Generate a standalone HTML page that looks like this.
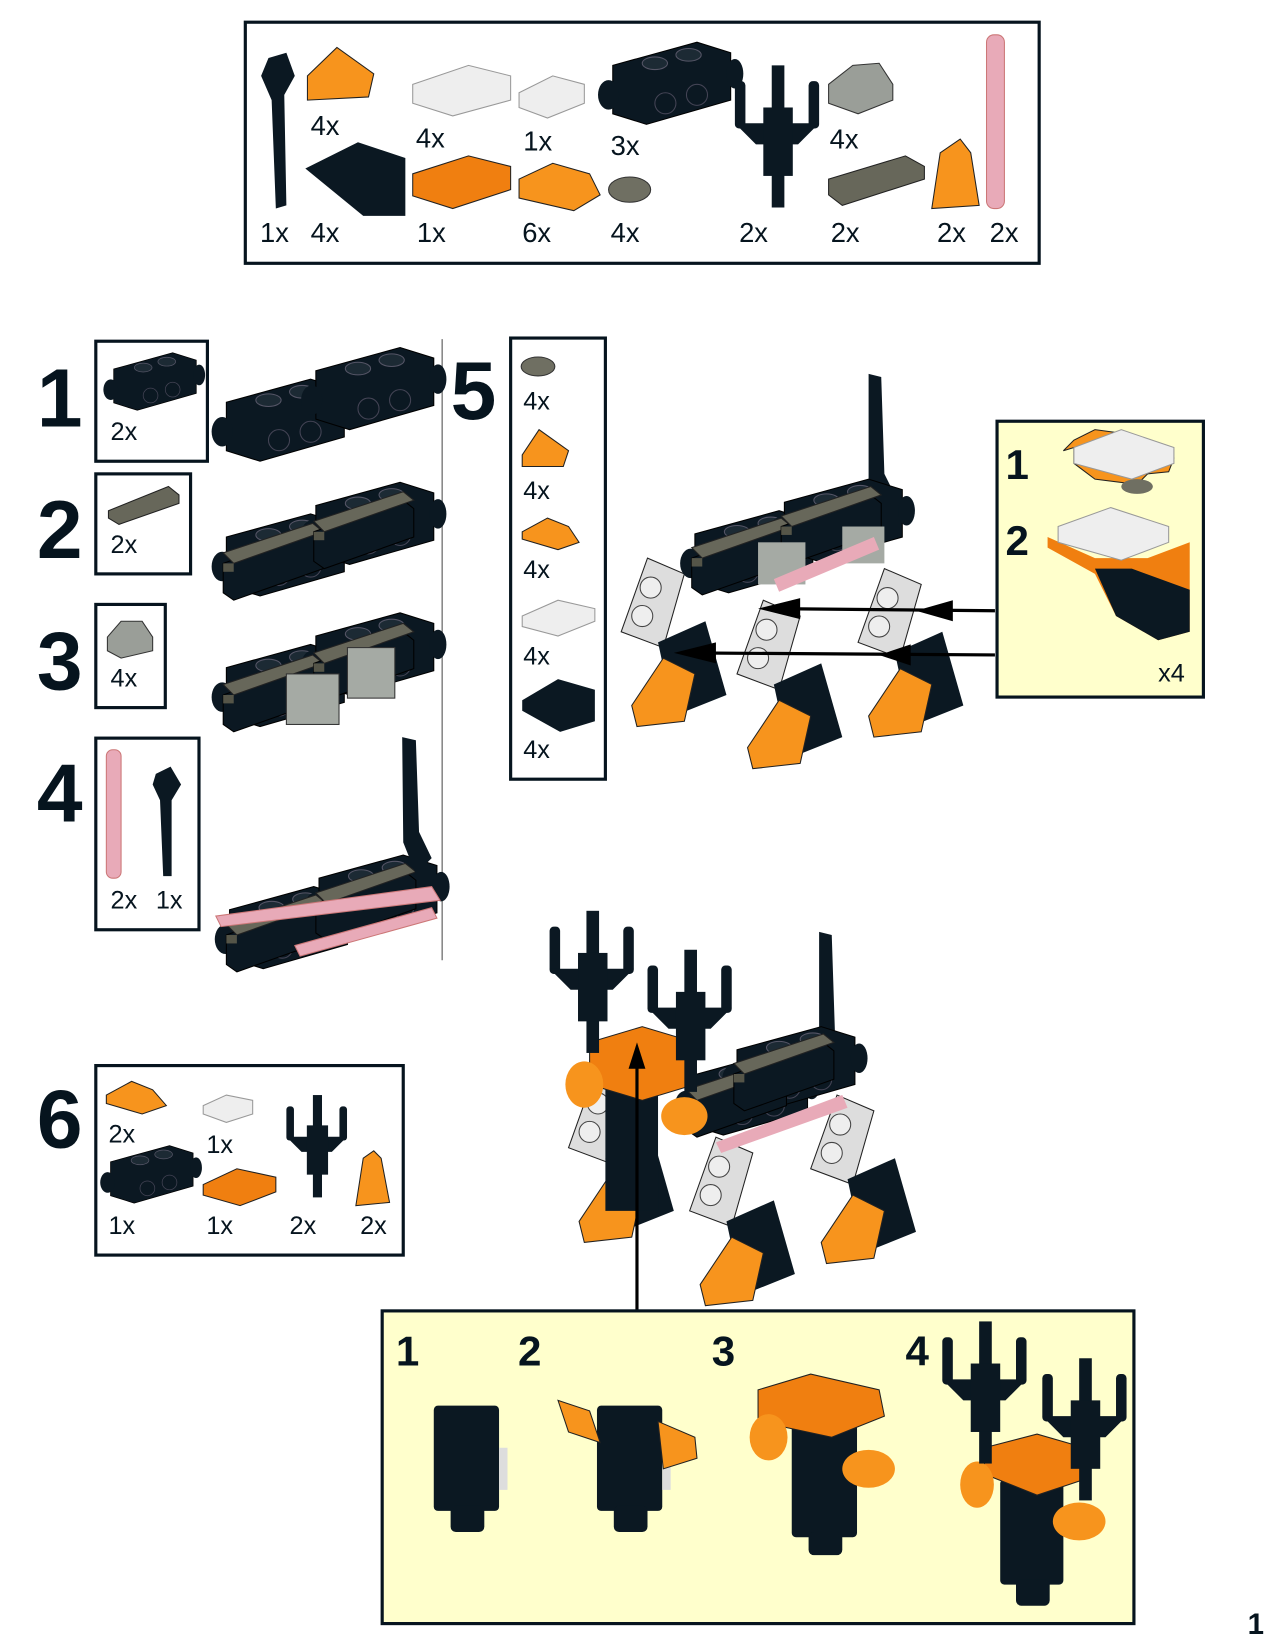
<!DOCTYPE html>
<html><head><meta charset="utf-8"><style>
html,body{margin:0;padding:0;background:#fff;}
svg{display:block;}
text{font-family:"Liberation Sans",Arial,sans-serif;fill:#06141e;}
.q{font-size:26px;}
.s{font-size:24px;}
.n{font-size:78px;font-weight:bold;}
.m{font-size:40px;font-weight:bold;}
</style></head><body>
<svg width="1275" height="1650" viewBox="0 0 1211 1567" xmlns="http://www.w3.org/2000/svg">
<defs>
<g id="brick"><polygon points="0,22 80,0 112,10 112,55 32,78 0,68" fill="#0b1822" stroke="#000"/><ellipse cx="40" cy="20" rx="12" ry="6" fill="#1c2a34" stroke="#556"/><ellipse cx="72" cy="12" rx="12" ry="6" fill="#1c2a34" stroke="#556"/><circle cx="50" cy="58" r="10" fill="none" stroke="#445"/><circle cx="80" cy="50" r="10" fill="none" stroke="#445"/><ellipse cx="-4" cy="50" rx="10" ry="14" fill="#0b1822"/><ellipse cx="116" cy="30" rx="8" ry="14" fill="#0b1822"/></g>
<g id="grille"><polygon points="0,30 85,0 95,8 95,35 10,65 0,58" fill="#0b1822" stroke="#000"/><polygon points="0,20 85,-8 95,0 10,30" fill="#67675a" stroke="#222"/><polygon points="0,30 10,30 10,38 0,38" fill="#555548"/></g>
<g id="antler"><rect x="35" y="0" width="12" height="135" fill="#0b1822"/><rect x="0" y="15" width="10" height="45" rx="4" fill="#0b1822"/><rect x="70" y="15" width="10" height="45" rx="4" fill="#0b1822"/><polygon points="0,55 80,55 60,75 20,75" fill="#0b1822"/><rect x="27" y="40" width="28" height="65" fill="#0b1822"/></g>
<g id="leg"><polygon points="0,70 25,0 60,15 40,85" fill="#ddd" stroke="#222"/><circle cx="28" cy="28" r="10" fill="#eee" stroke="#444"/><circle cx="20" cy="55" r="10" fill="#eee" stroke="#444"/><polygon points="35,80 80,60 100,130 50,150" fill="#0b1822"/><polygon points="10,140 40,95 70,110 60,155 15,160" fill="#f7941d" stroke="#222"/></g>
</defs>

<rect x="233" y="21" width="754" height="229" fill="#fff" stroke="#06141e" stroke-width="3"/>
<path d="M255,55 L272,50 L280,72 L270,90 L272,195 L262,198 L258,95 L248,72 Z" fill="#0b1822"/>
<polygon points="292,72 320,45 355,70 350,92 292,95" fill="#f7941d" stroke="#222"/>
<polygon points="290,160 340,135 385,150 385,205 345,205" fill="#0b1822"/>
<polygon points="392,80 445,62 485,72 485,95 430,110 392,98" fill="#eee" stroke="#999"/>
<polygon points="392,165 445,148 485,158 485,180 430,198 392,186" fill="#f07f10" stroke="#222"/>
<polygon points="493,88 525,72 555,80 555,98 520,112 493,102" fill="#eee" stroke="#999"/>
<polygon points="493,170 525,155 560,165 570,185 545,200 493,188" fill="#f7941d" stroke="#222"/>
<use href="#brick" x="582" y="40"/>
<ellipse cx="598" cy="180" rx="20" ry="12" fill="#6f6f62" stroke="#333"/>
<use href="#antler" x="698" y="62"/>
<polygon points="787,80 810,62 835,60 848,80 848,95 815,108 787,98" fill="#9a9e98" stroke="#333"/>
<polygon points="787,170 860,148 878,158 878,170 800,195 787,185" fill="#67675a" stroke="#222"/>
<polygon points="893,145 912,132 922,145 930,195 885,198" fill="#f7941d" stroke="#222"/>
<rect x="937" y="33" width="17" height="165" rx="7" fill="#e8aab8" stroke="#c77"/>
<text class="q" x="295" y="128">4x</text><text class="q" x="395" y="140">4x</text><text class="q" x="497" y="143">1x</text><text class="q" x="580" y="147">3x</text><text class="q" x="788" y="141">4x</text>
<text class="q" x="247" y="230">1x</text><text class="q" x="295" y="230">4x</text><text class="q" x="396" y="230">1x</text><text class="q" x="496" y="230">6x</text><text class="q" x="580" y="230">4x</text><text class="q" x="702" y="230">2x</text><text class="q" x="789" y="230">2x</text><text class="q" x="890" y="230">2x</text><text class="q" x="940" y="230">2x</text>

<text class="n" x="35" y="405">1</text><text class="n" x="35" y="530">2</text><text class="n" x="35" y="655">3</text><text class="n" x="35" y="780">4</text><text class="n" x="428" y="398">5</text><text class="n" x="35" y="1090">6</text>
<line x1="420" y1="322" x2="420" y2="912" stroke="#888" stroke-width="1.5"/>

<rect x="91" y="324" width="106" height="114" fill="#fff" stroke="#06141e" stroke-width="3"/>
<g transform="translate(108,335) scale(0.7)"><use href="#brick"/></g>
<text class="s" x="105" y="418">2x</text>
<use href="#brick" x="215" y="360"/><use href="#brick" x="300" y="330"/>
<rect x="91" y="450" width="90" height="95" fill="#fff" stroke="#06141e" stroke-width="3"/>
<polygon points="103,485 160,462 170,470 170,478 113,498 103,492" fill="#67675a" stroke="#222"/>
<text class="s" x="105" y="525">2x</text>
<use href="#brick" x="215" y="488"/><use href="#brick" x="300" y="458"/>
<use href="#grille" x="212" y="505"/><use href="#grille" x="298" y="475"/>
<rect x="91" y="574" width="66" height="98" fill="#fff" stroke="#06141e" stroke-width="3"/>
<polygon points="102,605 115,590 135,590 145,605 145,618 115,625 102,618" fill="#9a9e98" stroke="#333"/>
<text class="s" x="105" y="652">4x</text>
<use href="#brick" x="215" y="612"/><use href="#brick" x="300" y="582"/>
<use href="#grille" x="212" y="630"/><use href="#grille" x="298" y="600"/>
<rect x="272" y="640" width="50" height="48" fill="#a5aaa4" stroke="#333"/><rect x="330" y="615" width="45" height="48" fill="#a5aaa4" stroke="#333"/>
<rect x="91" y="701" width="98" height="182" fill="#fff" stroke="#06141e" stroke-width="3"/>
<rect x="101" y="712" width="14" height="122" rx="6" fill="#e8aab8" stroke="#c77"/>
<path d="M148,735 L162,728 L172,745 L163,760 L163,832 L155,832 L152,760 L145,745Z" fill="#0b1822"/>
<text class="s" x="105" y="863">2x</text><text class="s" x="148" y="863">1x</text>
<use href="#brick" x="218" y="842"/><use href="#brick" x="303" y="812"/>
<use href="#grille" x="215" y="858"/><use href="#grille" x="300" y="828"/>
<path d="M382,700 L395,703 L398,790 L410,815 L395,830 L383,800Z" fill="#0b1822"/>
<polygon points="205,870 410,842 418,855 210,880" fill="#e8aab8" stroke="#c77"/>
<polygon points="280,898 410,862 415,872 285,908" fill="#e8aab8" stroke="#c77"/>

<rect x="485" y="321" width="90" height="419" fill="#fff" stroke="#06141e" stroke-width="3"/>
<ellipse cx="511" cy="348" rx="16" ry="9" fill="#6f6f62" stroke="#333"/>
<polygon points="496,432 512,408 540,428 535,443 496,443" fill="#f7941d" stroke="#222"/>
<polygon points="496,505 520,492 540,500 550,515 530,522 496,512" fill="#f7941d" stroke="#222"/>
<polygon points="496,585 530,570 565,578 565,590 530,604 496,595" fill="#eee" stroke="#999"/>
<polygon points="496,665 530,645 565,655 565,685 532,695 496,675" fill="#0b1822"/>
<text class="s" x="497" y="389">4x</text><text class="s" x="497" y="474">4x</text><text class="s" x="497" y="549">4x</text><text class="s" x="497" y="631">4x</text><text class="s" x="497" y="720">4x</text>

<path d="M825,355 L837,358 L840,450 L850,470 L840,490 L825,480Z" fill="#0b1822"/>
<use href="#leg" x="590" y="530"/><use href="#leg" x="700" y="570"/><use href="#leg" x="815" y="540"/>
<use href="#brick" x="660" y="485"/><use href="#brick" x="745" y="455"/>
<use href="#grille" x="657" y="500"/><use href="#grille" x="742" y="470"/>
<rect x="720" y="515" width="45" height="40" fill="#a5aaa4"/><rect x="800" y="500" width="40" height="35" fill="#a5aaa4"/>
<polygon points="735,550 830,510 835,522 740,562" fill="#e8aab8"/>
<line x1="945" y1="580" x2="735" y2="578" stroke="#000" stroke-width="3"/><polygon points="720,578 760,568 760,588" fill="#000"/><polygon points="870,580 905,570 905,590" fill="#000"/>
<line x1="945" y1="622" x2="650" y2="620" stroke="#000" stroke-width="3"/><polygon points="640,620 680,610 680,630" fill="#000"/><polygon points="835,622 865,612 865,632" fill="#000"/>
<rect x="947" y="400" width="196" height="262" fill="#ffffcc" stroke="#06141e" stroke-width="3"/>
<text class="m" x="955" y="455">1</text><text class="m" x="955" y="527">2</text><text class="s" x="1100" y="647">x4</text>
<polygon points="1010,428 1020,425 1020,440 1040,455 1080,460 1090,450 1110,448 1115,435 1070,412 1040,408 1020,418" fill="#f7941d" stroke="#222"/>
<polygon points="1020,425 1065,408 1115,425 1115,440 1075,455 1020,440" fill="#eee" stroke="#999"/>
<ellipse cx="1080" cy="462" rx="15" ry="7" fill="#6f6f62"/>
<polygon points="995,510 1040,530 1090,530 1130,515 1130,600 1100,608 1060,585 1040,545 995,520" fill="#f07f10"/>
<polygon points="1040,540 1075,540 1130,560 1130,600 1100,608 1060,585" fill="#0b1822"/>
<polygon points="1005,500 1055,482 1110,500 1110,515 1065,532 1005,515" fill="#eee" stroke="#999"/>

<rect x="91" y="1012" width="292" height="180" fill="#fff" stroke="#06141e" stroke-width="3"/>
<polygon points="101,1040 125,1027 145,1035 158,1050 135,1058 101,1048" fill="#f7941d" stroke="#222"/>
<polygon points="193,1050 215,1040 240,1045 240,1058 215,1066 193,1058" fill="#eee" stroke="#999"/>
<g transform="translate(105,1088) scale(0.7)"><use href="#brick"/></g>
<polygon points="193,1125 225,1110 262,1118 262,1132 228,1145 193,1135" fill="#f07f10" stroke="#222"/>
<g transform="translate(272,1040) scale(0.72)"><use href="#antler"/></g>
<polygon points="345,1100 355,1093 362,1100 370,1142 338,1145" fill="#f7941d" stroke="#222"/>
<text class="s" x="103" y="1085">2x</text><text class="s" x="196" y="1095">1x</text><text class="s" x="103" y="1172">1x</text><text class="s" x="196" y="1172">1x</text><text class="s" x="275" y="1172">2x</text><text class="s" x="342" y="1172">2x</text>

<path d="M778,885 L790,888 L793,980 L800,1000 L788,1015 L778,1000Z" fill="#0b1822"/>
<use href="#leg" x="540" y="1020"/><use href="#leg" x="655" y="1080"/><use href="#leg" x="770" y="1040"/>
<rect x="575" y="1020" width="50" height="130" fill="#0b1822"/>
<use href="#brick" x="655" y="1000"/><use href="#brick" x="700" y="975"/>
<use href="#grille" x="652" y="1015"/><use href="#grille" x="697" y="990"/>
<polygon points="680,1085 800,1040 805,1052 685,1095" fill="#e8aab8"/>
<polygon points="560,990 610,975 660,990 660,1030 610,1045 560,1030" fill="#f07f10" stroke="#222"/>
<ellipse cx="555" cy="1030" rx="18" ry="22" fill="#f7941d"/><ellipse cx="650" cy="1060" rx="22" ry="18" fill="#f7941d"/>
<use href="#antler" x="522" y="865"/><use href="#antler" x="615" y="902"/>
<line x1="605" y1="1000" x2="605" y2="1245" stroke="#000" stroke-width="3"/><polygon points="605,990 597,1015 613,1015" fill="#000"/>

<rect x="363" y="1245" width="714" height="297" fill="#ffffcc" stroke="#06141e" stroke-width="3"/>
<text class="m" x="376" y="1297">1</text><text class="m" x="492" y="1297">2</text><text class="m" x="676" y="1297">3</text><text class="m" x="860" y="1297">4</text>
<g fill="#0b1822">
<rect x="412" y="1335" width="62" height="100" rx="4"/><rect x="428" y="1430" width="32" height="25" rx="5"/>
<rect x="567" y="1335" width="62" height="100" rx="4"/><rect x="583" y="1430" width="32" height="25" rx="5"/>
<rect x="752" y="1350" width="62" height="110" rx="4"/><rect x="768" y="1455" width="32" height="22" rx="5"/>
<rect x="950" y="1405" width="60" height="100" rx="4"/><rect x="965" y="1500" width="32" height="25" rx="5"/>
</g>
<rect x="474" y="1375" width="8" height="40" fill="#ddd"/><rect x="629" y="1375" width="8" height="40" fill="#ddd"/>
<polygon points="530,1330 560,1340 570,1370 540,1360" fill="#f7941d" stroke="#222"/><polygon points="625,1350 660,1365 662,1385 630,1395" fill="#f7941d" stroke="#222"/>
<polygon points="720,1320 770,1305 835,1320 840,1345 790,1365 720,1350" fill="#f07f10" stroke="#222"/>
<ellipse cx="730" cy="1365" rx="18" ry="22" fill="#f7941d"/><ellipse cx="825" cy="1395" rx="25" ry="18" fill="#f7941d"/>
<polygon points="935,1375 985,1362 1030,1375 1030,1405 985,1420 935,1400" fill="#f07f10" stroke="#222"/>
<ellipse cx="928" cy="1410" rx="16" ry="22" fill="#f7941d"/><ellipse cx="1025" cy="1445" rx="25" ry="18" fill="#f7941d"/>
<use href="#antler" x="895" y="1255"/><use href="#antler" x="990" y="1290"/>

<text x="1185" y="1552" style="font-size:28px;font-weight:bold">1</text>
</svg>
</body></html>
